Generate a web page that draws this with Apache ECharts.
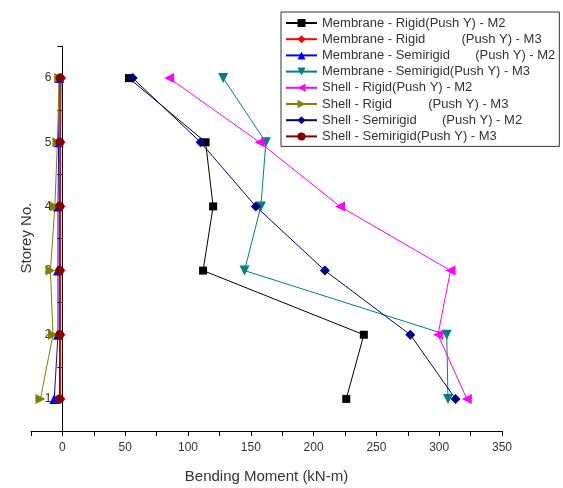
<!DOCTYPE html>
<html>
<head>
<meta charset="utf-8">
<script src="https://cdn.jsdelivr.net/npm/echarts@6/dist/echarts.min.js"></script>
<style>
  html, body { margin: 0; padding: 0; background: #fff; }
  #chart { width: 563px; height: 488px; }
</style>
</head>
<body>
<div id="chart"></div>
<script>
// storey numbers (y) and bending moments (x, kN-m) per storey 1..6
const storeys = [1, 2, 3, 4, 5, 6];

const membraneRigidM2 = [226, 240, 112, 120, 114, 53];
const membraneRigidM3 = [-1.5, -1.5, -1.5, -1.5, -1.5, -1];
const membraneSemiM2 = [-6.5, -3.5, -3.5, -3.5, -3, -2.5];
const membraneSemiM3 = [307, 306, 145, 158, 162, 128];
const shellRigidM2 = [322, 299, 309, 221, 157, 85];
const shellRigidM3 = [-17.5, -7.5, -9.5, -6, -4, -2.5];
const shellSemiM2 = [313, 277, 209, 154, 110, 56];
const shellSemiM3 = [-2.3, -2.2, -2.2, -2.2, -2, -1.8];

const names = [
  'Membrane - Rigid(Push Y) - M2',
  'Membrane - Rigid          (Push Y) - M3',
  'Membrane - Semirigid       (Push Y) - M2',
  'Membrane - Semirigid(Push Y) - M3',
  'Shell - Rigid(Push Y) - M2',
  'Shell - Rigid          (Push Y) - M3',
  'Shell - Semirigid       (Push Y) - M2',
  'Shell - Semirigid(Push Y) - M3'
];
const values = [membraneRigidM2, membraneRigidM3, membraneSemiM2, membraneSemiM3,
  shellRigidM2, shellRigidM3, shellSemiM2, shellSemiM3];
const colors = ['#000000', '#ff0000', '#0000ff', '#008080', '#ff00ff', '#808000', '#000080', '#800000'];
const symbols = ['rect', 'diamond', 'triangle', 'triangle', 'triangle', 'triangle', 'diamond', 'circle'];
const rotations = [0, 0, 0, 180, 90, -90, 0, 0];
const sizes = [8, 10, 10, 10, 10, 10, 10, 9];

const font = '"Liberation Sans", Arial, sans-serif';

const series = names.map((name, i) => ({
  name: name,
  type: 'line',
  data: values[i].map((v, k) => [v, storeys[k]]),
  symbol: symbols[i],
  symbolRotate: rotations[i],
  symbolSize: sizes[i],
  showAllSymbol: true,
  lineStyle: { color: colors[i], width: 1 },
  itemStyle: { color: colors[i] },
  emphasis: { disabled: true }
}));

const chart = echarts.init(document.getElementById('chart'));
chart.setOption({
  animation: false,
  backgroundColor: '#fff',
  grid: { left: 31, right: 61, top: 46, bottom: 57, containLabel: false, outerBoundsMode: 'none' },
  // y axis title, drawn by hand since the axis sits on x = 0
  graphic: [{
    type: 'text',
    x: 27,
    y: 238,
    rotation: Math.PI / 2,
    style: {
      text: 'Storey No.',
      font: '15px ' + font,
      fill: '#333',
      align: 'center',
      verticalAlign: 'middle'
    }
  }],
  legend: {
    orient: 'vertical',
    left: 281,
    top: 12,
    padding: [4, 4, 3, 4],
    itemWidth: 31,
    itemHeight: 10,
    itemGap: 2.2,
    borderColor: '#333',
    borderWidth: 1,
    borderRadius: 0,
    textStyle: { fontFamily: font, fontSize: 13, lineHeight: 14, color: '#333' },
    data: names
  },
  xAxis: {
    type: 'value',
    min: -25,
    max: 350,
    interval: 25,
    name: 'Bending Moment (kN-m)',
    nameLocation: 'middle',
    nameGap: 38,
    nameMoveOverlap: false,
    nameTextStyle: { fontFamily: font, fontSize: 15, color: '#333' },
    splitLine: { show: false },
    axisLine: { onZero: false, lineStyle: { color: '#000', width: 1 } },
    axisTick: { show: true, length: 5, lineStyle: { color: '#000' } },
    axisLabel: {
      margin: 11,
      fontFamily: font,
      fontSize: 12,
      color: '#333',
      formatter: v => (v % 50 === 0 ? String(v) : '')
    }
  },
  yAxis: {
    type: 'value',
    min: 0.5,
    max: 6.5,
    interval: 0.5,
    // shift the whole axis (line, ticks, labels) onto x = 0
    offset: -31.4,
    splitLine: { show: false },
    axisLine: { onZero: false, lineStyle: { color: '#000', width: 1 } },
    axisTick: { show: true, length: 5, lineStyle: { color: '#000' } },
    axisLabel: {
      margin: 11,
      fontFamily: font,
      fontSize: 12,
      color: '#333',
      formatter: v => (Number.isInteger(v) ? String(v) : '')
    }
  },
  series: series
});
</script>
</body>
</html>
